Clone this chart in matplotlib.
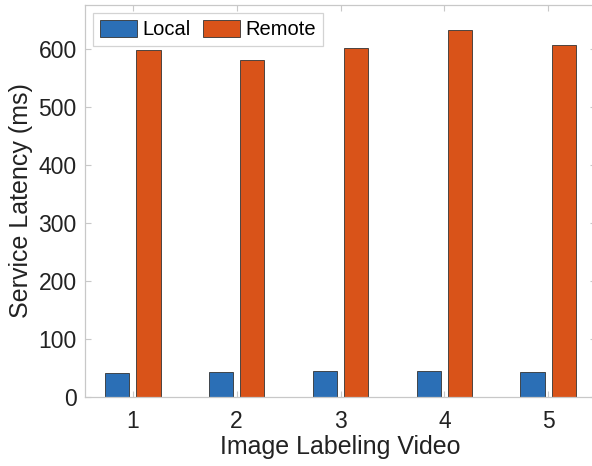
import matplotlib
matplotlib.use("Agg")
import matplotlib.pyplot as plt
import numpy as np

plt.rcParams['font.family'] = ['Liberation Sans', 'DejaVu Sans']

videos = [1, 2, 3, 4, 5]
local = [42, 43, 44, 44, 43]
remote = [598, 581, 601, 633, 607]

fig = plt.figure(figsize=(5.92, 4.66), dpi=100)
W, H = 592, 466
ax = fig.add_axes([85 / W, 1 - 397 / H, (596 - 85) / W, (397 - 5) / H])

x = np.array(videos, dtype=float)
bw = 0.235
ax.bar(x - 0.15, local, bw, color='#2B6FB6', edgecolor='#333333', linewidth=0.6, label='Local')
ax.bar(x + 0.15, remote, bw, color='#D95319', edgecolor='#333333', linewidth=0.6, label='Remote')

ax.set_xlim(0.54, 5.46)
ax.set_ylim(0, 676)
ax.set_xticks(videos)
ax.set_xticklabels([str(v) for v in videos])
ax.set_yticks([0, 100, 200, 300, 400, 500, 600])
for s in ax.spines.values():
    s.set_color('#c8c8c8')
    s.set_linewidth(0.9)
ax.tick_params(direction='in', colors='#c8c8c8', labelcolor='#222222', labelsize=16.5,
               length=4, top=True, right=True)
ax.tick_params(axis='x', pad=9)
ax.tick_params(axis='y', pad=6)
ax.set_xlabel('Image Labeling Video', fontsize=18, color='#222222', labelpad=2)
ax.set_ylabel('Service Latency (ms)', fontsize=18, color='#222222', labelpad=4)

leg = ax.legend(loc='upper left', ncol=2, fontsize=14.5, frameon=True, fancybox=False,
                edgecolor='#c8c8c8', handlelength=1.85, handleheight=0.9, handletextpad=0.25,
                columnspacing=0.6, borderaxespad=0.4, borderpad=0.35)
leg.get_frame().set_linewidth(0.9)

fig.savefig('out.png', dpi=100)
